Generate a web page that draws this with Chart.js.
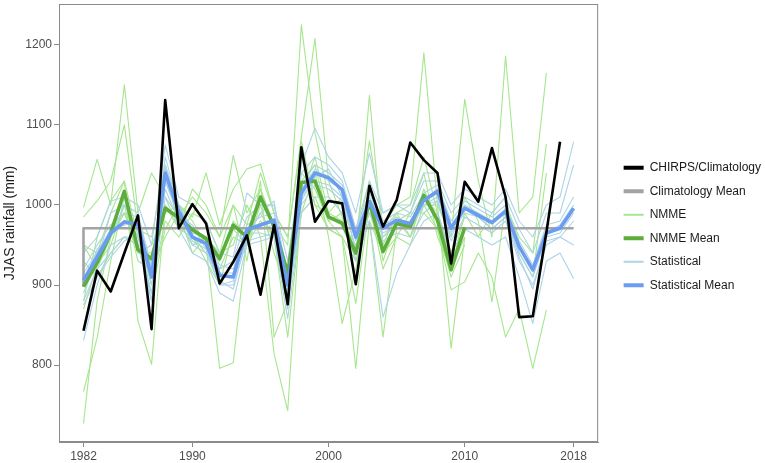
<!DOCTYPE html>
<html>
<head>
<meta charset="utf-8">
<script src="https://cdn.jsdelivr.net/npm/chart.js@4.4.1/dist/chart.umd.min.js"></script>
<style>
  html, body { margin: 0; padding: 0; background: #fff; }
  #wrap { width: 765px; height: 463px; }
</style>
</head>
<body>
<div id="wrap"><canvas id="chart" width="765" height="463"></canvas></div>
<script>
// --- Datos ---
const years = [];
for (let y = 1982; y <= 2018; y++) years.push(y);

const xTicks = [1982, 1990, 2000, 2010, 2018];
const yTicks = [800, 900, 1000, 1100, 1200];

// CHIRPS observado 1982-2017
const chirps = [843, 918, 892, 940, 987, 845, 1131, 971, 1001, 977, 902, 929, 962, 888, 975, 876, 1072, 979,
  1005, 1002, 901, 1024, 973, 1006, 1078, 1056, 1040, 927, 1029, 1004, 1071, 1010, 860, 861, 966, 1079];

// climatologia (primer punto repetido en 1982)
const climYears = [1982].concat(years);
const climMean = [898].concat(years.map(() => 971));

// NMME media 1982-2010
const nmmeMean = [898, 928, 965, 1017, 944, 933, 996, 984, 969, 958, 933, 975, 960, 1010, 973, 915, 1028, 1030,
  985, 977, 940, 1004, 942, 977, 973, 1012, 981, 919, 972];

// miembros NMME (algunos siguen hasta 2016)
const nmme1 = [997, 1057, 1000, 1150, 990, 1040, 1010, 985, 1010, 990, 960, 1062, 990, 1020, 975, 950, 1225, 1090,
  1010, 990, 960, 1080, 975, 1000, 1010, 1190, 1000, 960, 1132, 1030, 960, 1186, 990, 1010, 1165];
const nmme2 = [985, 1005, 1030, 1100, 970, 960, 1050, 1000, 985, 1040, 975, 1020, 1045, 1051, 990, 960, 1085, 1208,
  1030, 985, 930, 1137, 950, 990, 1000, 1060, 990, 940, 1010, 980, 879, 1000, 960, 940, 1076];
const nmme3 = [880, 960, 1005, 1030, 855, 801, 1000, 970, 960, 930, 900, 970, 950, 1000, 940, 890, 1060, 1000,
  970, 960, 877, 1000, 920, 960, 950, 1000, 970, 894, 904, 940, 910, 835, 870, 796, 869];
const nmme4 = [870, 925, 950, 1000, 930, 920, 960, 990, 940, 960, 940, 1000, 930, 1030, 835, 880, 990, 1040,
  960, 852, 920, 1010, 960, 980, 990, 1040, 960, 920, 990, 960, 990, 1010, 940, 910, 1040];
const nmme5 = [767, 834, 930, 1010, 940, 950, 990, 1000, 980, 950, 796, 803, 960, 990, 960, 920, 1040, 1020,
  980, 960, 796, 980, 835, 970, 980, 1000, 1000, 821, 960];
const nmme6 = [727, 880, 960, 990, 960, 900, 980, 960, 990, 980, 940, 950, 1000, 960, 814, 743, 1010, 1060,
  990, 980, 950, 990, 970, 990, 960, 1010, 990, 930, 970];
const nmme7 = [950, 940, 990, 1030, 960, 930, 1050, 970, 1020, 1000, 960, 1000, 975, 1040, 990, 960, 1080, 1000,
  990, 1010, 960, 1030, 930, 980, 970, 1020, 980, 940, 985];
const nmme8 = [930, 910, 940, 960, 950, 890, 970, 1000, 960, 940, 920, 960, 950, 980, 960, 835, 990, 1010,
  970, 960, 930, 980, 940, 960, 990, 990, 970, 910, 950];
const nmme9 = [950, 920, 960, 990, 940, 940, 1000, 980, 950, 960, 930, 980, 960, 1020, 970, 900, 1030, 1050,
  980, 990, 940, 990, 945, 980, 960, 1010, 980, 920, 960];

// Estadistico media 1982-2018
const statMean = [906, 935, 965, 979, 975, 910, 1040, 992, 960, 952, 912, 910, 969, 975, 981, 900, 1015, 1040,
  1034, 1019, 960, 1004, 971, 981, 977, 1006, 1017, 971, 996, 987, 978, 992, 948, 919, 965, 971, 996];

const stat1 = [940, 960, 1005, 1010, 1000, 950, 1075, 1010, 1000, 980, 940, 935, 1015, 1000, 1000, 930, 1050, 1096,
  1060, 1040, 990, 1065, 990, 1000, 1000, 1040, 1040, 1000, 1020, 1010, 1000, 1020, 980, 960, 1000, 1010, 1079];
const stat2 = [831, 900, 950, 960, 950, 880, 1010, 970, 940, 930, 890, 880, 950, 955, 960, 858, 990, 1010,
  1010, 990, 930, 980, 860, 915, 950, 980, 990, 940, 970, 960, 950, 960, 910, 852, 930, 940, 908];
const stat3 = [890, 930, 990, 1000, 990, 920, 1060, 1000, 970, 960, 920, 930, 985, 1000, 1000, 910, 1040, 1060,
  1050, 1030, 970, 1030, 990, 1000, 990, 1030, 1030, 990, 1010, 1000, 990, 1010, 970, 940, 990, 990, 1050];
const stat4 = [880, 920, 940, 960, 960, 890, 1020, 980, 950, 940, 900, 900, 955, 960, 965, 880, 1000, 1025,
  1020, 1005, 945, 990, 955, 965, 960, 990, 1005, 955, 985, 975, 965, 980, 930, 900, 950, 960, 980];
const stat5 = [920, 950, 975, 990, 985, 925, 1050, 1000, 965, 960, 925, 920, 975, 985, 990, 905, 1025, 1050,
  1040, 1025, 970, 1015, 980, 990, 985, 1015, 1025, 980, 1005, 995, 985, 1000, 955, 925, 975, 980, 1010];
const stat6 = [900, 945, 960, 1000, 970, 900, 1030, 985, 975, 945, 905, 895, 960, 990, 1005, 895, 1005, 1035,
  1045, 1010, 955, 1000, 960, 975, 970, 1000, 1010, 965, 990, 985, 970, 985, 940, 910, 960, 965, 990];
const stat7 = [915, 940, 970, 975, 980, 915, 1045, 995, 950, 955, 915, 915, 970, 970, 975, 905, 1020, 1045,
  1030, 1020, 965, 1010, 975, 985, 975, 1005, 1020, 975, 1000, 990, 980, 995, 950, 920, 965, 975, 1000];
const stat8 = [875, 910, 935, 955, 965, 880, 1030, 990, 955, 945, 900, 905, 965, 965, 960, 870, 1010, 1030,
  1025, 1010, 945, 1000, 965, 975, 970, 1000, 1005, 960, 995, 985, 970, 985, 935, 895, 955, 960, 950];

// --- Colores ---
const colBlack = '#000000';
const colGray = '#a3a3a3';
const colNmme = '#a6e68e';
const colNmmeMean = '#5cad3b';
const colStat = '#add3e6';
const colStatMean = '#6a9cf0';

// --- Armar datasets ---
function pts(xs, vals) {
  return vals.map((v, i) => ({ x: xs[i], y: v }));
}
function serie(label, vals, color, width, order, xs) {
  return {
    label: label,
    data: pts(xs || years, vals),
    borderColor: color,
    backgroundColor: color,
    borderWidth: width,
    pointRadius: 0,
    tension: 0,
    order: order,
    borderJoinStyle: 'round',
    borderCapStyle: 'butt'
  };
}

const datasets = [];
[nmme1, nmme2, nmme3, nmme4, nmme5, nmme6, nmme7, nmme8, nmme9].forEach(m => {
  datasets.push(serie('NMME', m, colNmme, 1.1, 6));
});
[stat1, stat2, stat3, stat4, stat5, stat6, stat7, stat8].forEach(m => {
  datasets.push(serie('Statistical', m, colStat, 1.1, 5));
});
datasets.push(serie('Climatology Mean', climMean, colGray, 2.6, 4, climYears));
datasets.push(serie('NMME Mean', nmmeMean, colNmmeMean, 3.6, 3));
datasets.push(serie('Statistical Mean', statMean, colStatMean, 3.6, 2));
datasets.push(serie('CHIRPS/Climatology', chirps, colBlack, 2.6, 1));

const legendItems = [
  { text: 'CHIRPS/Climatology', color: colBlack, w: 4 },
  { text: 'Climatology Mean', color: colGray, w: 4 },
  { text: 'NMME', color: colNmme, w: 2 },
  { text: 'NMME Mean', color: colNmmeMean, w: 4 },
  { text: 'Statistical', color: colStat, w: 2 },
  { text: 'Statistical Mean', color: colStatMean, w: 4 }
];

// borde del panel
const panelBorder = {
  id: 'panelBorder',
  afterDraw(chart) {
    const a = chart.chartArea;
    const ctx = chart.ctx;
    ctx.save();
    ctx.strokeStyle = '#8a8a8a';
    ctx.lineWidth = 1;
    ctx.strokeRect(a.left + 0.5, a.top + 0.5, a.right - a.left - 1, a.bottom - a.top - 1);
    ctx.restore();
  }
};

// separar la leyenda del panel, como en ggplot
const legendGap = {
  id: 'legendGap',
  afterLayout(chart) {
    const lg = chart.legend;
    const dx = chart.chartArea.right + 14 - lg.left;
    lg.left += dx;
    lg.right += dx;
    lg.top -= 7;
    lg.bottom -= 7;
  }
};

Chart.defaults.font.family = "'Liberation Sans', Arial, Helvetica, sans-serif";
Chart.defaults.font.size = 12;

new Chart(document.getElementById('chart'), {
  type: 'line',
  data: { datasets: datasets },
  plugins: [panelBorder, legendGap],
  options: {
    responsive: false,
    animation: false,
    layout: { padding: { top: 4, right: 8, bottom: 0, left: 2 } },
    plugins: {
      tooltip: { enabled: false },
      legend: {
        position: 'right',
        align: 'center',
        labels: {
          usePointStyle: true,
          pointStyleWidth: 20,
          boxHeight: 12,
          padding: 11.5,
          color: '#1a1a1a',
          font: { size: 12 },
          generateLabels: () => legendItems.map((it, i) => ({
            text: it.text,
            fillStyle: it.color,
            strokeStyle: it.color,
            lineWidth: it.w,
            pointStyle: 'line',
            fontColor: '#1a1a1a',
            hidden: false,
            datasetIndex: i
          }))
        },
        onClick: null
      }
    },
    scales: {
      x: {
        type: 'linear',
        min: 1980.2,
        max: 2019.8,
        afterBuildTicks: (axis) => { axis.ticks = xTicks.map(v => ({ value: v })); },
        afterFit: (axis) => { axis.height = 21; },
        ticks: { color: '#4d4d4d', padding: 2, callback: (v) => String(v), font: { size: 12 } },
        grid: { drawOnChartArea: false, drawTicks: true, tickLength: 5, color: '#8a8a8a' },
        border: { display: true, color: '#8a8a8a' }
      },
      y: {
        type: 'linear',
        min: 704,
        max: 1251,
        afterBuildTicks: (axis) => { axis.ticks = yTicks.map(v => ({ value: v })); },
        afterFit: (axis) => { axis.width = 57; axis.paddingTop = 0; axis.paddingBottom = 0; },
        ticks: { color: '#4d4d4d', padding: 2, callback: (v) => String(v), font: { size: 12 } },
        grid: { drawOnChartArea: false, drawTicks: true, tickLength: 5, color: '#8a8a8a' },
        border: { display: true, color: '#8a8a8a' },
        title: { display: true, text: 'JJAS rainfall (mm)', color: '#1a1a1a', font: { size: 14 }, padding: { top: 0, bottom: 4 } }
      }
    }
  }
});
</script>
</body>
</html>
